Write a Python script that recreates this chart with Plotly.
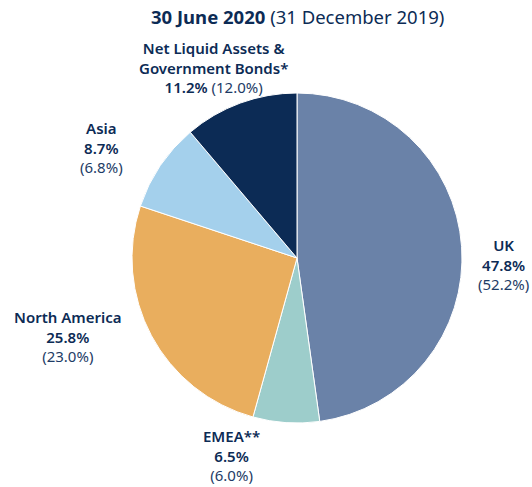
import plotly.graph_objects as go

categories = ["UK", "EMEA**", "North America", "Asia", "Net Liquid Assets &<br>Government Bonds*"]
values_2020 = [47.8, 6.5, 25.8, 8.7, 11.2]
values_2019 = [52.2, 6.0, 23.0, 6.8, 12.0]
colors = ["#6a82a8", "#9dcdcb", "#e9ae5e", "#a4d0ec", "#0c2b55"]
title_main = "30 June 2020"
title_prev = "(31 December 2019)"

# label layout in pixels: (centre x, centre y of text block, previous value on same line)
label_layout = [(503, 264.5, False), (231, 455, False), (68, 336, False), (101, 147.5, False), (213, 67.5, True)]

W, H = 532, 487
navy = "#0c2b55"
light = "#1e3c66"
LABEL_FONT = "Noto Sans"
TITLE_FONT = "Noto Sans"


def px(x, y):
    return x / W, 1 - y / H


fig = go.Figure(go.Pie(
    labels=[c.replace("<br>", " ") for c in categories],
    values=values_2020,
    sort=False,
    direction="clockwise",
    rotation=0,
    marker=dict(colors=colors, line=dict(color="white", width=1)),
    textinfo="none",
    hoverinfo="label+percent",
    domain=dict(x=[132 / W, 462 / W], y=[(H - 423) / H, (H - 93) / H]),
    showlegend=False,
))

anns = []
for cat, v, p, (x, yc, inline) in zip(categories, values_2020, values_2019, label_layout):
    sep = " " if inline else "<br>"
    names = "<br>".join(f"<span style='font-weight:600'>{t}</span>" for t in cat.split("<br>"))
    txt = (f"{names}<br><span style='font-weight:600'>{v:.1f}%</span>{sep}"
           f"<span style='color:{light}'>({p:.1f}%)</span>")
    ax, ay = px(x, yc)
    anns.append(dict(x=ax, y=ay, xref="paper", yref="paper", text=txt, showarrow=False,
                     xanchor="center", yanchor="middle", align="center",
                     font=dict(family=LABEL_FONT, size=15, color=navy)))
tx, ty = px(297, 16)
anns.append(dict(x=tx, y=ty, xref="paper", yref="paper",
                 text=f"<b>{title_main}</b> <span style='font-weight:400'>{title_prev}</span>",
                 showarrow=False, xanchor="center", yanchor="middle",
                 font=dict(family=TITLE_FONT, size=18.5, color=navy)))

fig.update_layout(width=W, height=H, margin=dict(l=0, r=0, t=0, b=0),
                  paper_bgcolor="white", plot_bgcolor="white", annotations=anns)
fig.write_html("out.html", config={"displayModeBar": False},
               post_script="document.body.style.margin='0';")
